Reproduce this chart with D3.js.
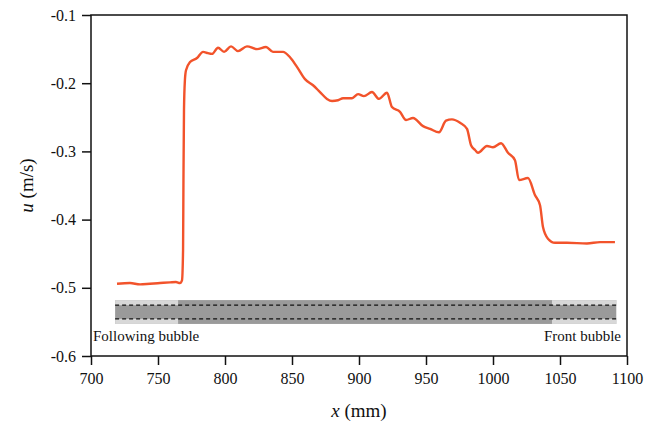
<!DOCTYPE html>
<html>
<head>
<meta charset="utf-8">
<script src="https://cdn.jsdelivr.net/npm/d3@7"></script>
<style>
  body { margin: 0; background: #fff; }
  text { font-family: "Liberation Serif", "DejaVu Serif", serif; fill: #111; }
</style>
</head>
<body>
<div id="chart"></div>
<script>
// Velocity profile: position x (mm) and velocity u (m/s)
var xValues = [719.4, 729.1, 736.6, 744.0, 751.5, 759.0, 763.4, 766.4, 767.9, 768.7,
  769.0, 769.4, 770.1, 770.9, 773.9, 779.1, 783.6, 787.3, 790.3, 794.8,
  799.3, 804.5, 809.7, 816.4, 823.9, 830.6, 835.8, 843.3, 848.5, 853.7,
  859.7, 865.7, 870.9, 876.1, 879.9, 884.3, 888.1, 894.8, 899.3, 903.7,
  909.7, 914.9, 920.9, 924.6, 930.6, 935.1, 940.3, 947.8, 953.0, 959.7,
  964.9, 969.4, 975.4, 980.6, 983.6, 986.6, 988.8, 995.5, 1000.0, 1006.0,
  1011.2, 1016.4, 1019.4, 1026.1, 1031.3, 1035.1, 1037.3, 1041.0, 1046.3, 1050.0,
  1055.2, 1070.1, 1079.9, 1091.0];
var uValues = [-0.494, -0.493, -0.495, -0.494, -0.493, -0.492, -0.4915, -0.493, -0.489, -0.445,
  -0.342, -0.239, -0.195, -0.181, -0.169, -0.163, -0.154, -0.156, -0.157, -0.148,
  -0.154, -0.146, -0.153, -0.146, -0.150, -0.147, -0.154, -0.154, -0.162, -0.176,
  -0.194, -0.203, -0.213, -0.223, -0.226, -0.225, -0.222, -0.222, -0.216, -0.219,
  -0.213, -0.223, -0.214, -0.235, -0.242, -0.254, -0.251, -0.263, -0.267, -0.272,
  -0.255, -0.253, -0.258, -0.267, -0.291, -0.298, -0.302, -0.292, -0.294, -0.288,
  -0.302, -0.313, -0.342, -0.339, -0.364, -0.379, -0.411, -0.428, -0.434, -0.434,
  -0.434, -0.435, -0.433, -0.433];

// Tick values
var xTicks = [700, 750, 800, 850, 900, 950, 1000, 1050, 1100];
var yTicks = [-0.1, -0.2, -0.3, -0.4, -0.5, -0.6];

// Bubble sketch: extent of the channel band and the two bubble noses (mm, m/s)
var bandX = [718, 1092];
var bubbleEnds = [765, 1044];
var bandOuter = [-0.518, -0.553];
var bandInner = [-0.5255, -0.5455];
var bubbleLabels = ["Following bubble", "Front bubble"];

var svgWidth = 667;
var svgHeight = 423;
var margin = { top: 15, right: 40, bottom: 67, left: 91 };
var chartWidth = svgWidth - margin.left - margin.right;
var chartHeight = svgHeight - margin.top - margin.bottom;

var svg = d3.select("#chart")
  .append("svg")
  .attr("width", svgWidth)
  .attr("height", svgHeight);

var chartGroup = svg.append("g")
  .attr("transform", `translate(${margin.left}, ${margin.top})`);

var xScale = d3.scaleLinear().domain([700, 1100]).range([0, chartWidth]);
var yScale = d3.scaleLinear().domain([-0.6, -0.1]).range([chartHeight, 0]);

var data = xValues.map((x, i) => ({ x: x, u: uValues[i] }));

// bubble band
var band = chartGroup.append("g");
band.append("rect")
  .attr("x", xScale(bandX[0]))
  .attr("y", yScale(bandOuter[0]))
  .attr("width", xScale(bandX[1]) - xScale(bandX[0]))
  .attr("height", yScale(bandOuter[1]) - yScale(bandOuter[0]))
  .attr("fill", "#9a9a9a");

// lighter film around the bubble noses
var ends = [[bandX[0], bubbleEnds[0]], [bubbleEnds[1], bandX[1]]];
ends.forEach(function(e) {
  [[bandOuter[0], bandInner[0]], [bandInner[1], bandOuter[1]]].forEach(function(s) {
    band.append("rect")
      .attr("x", xScale(e[0]))
      .attr("y", yScale(s[0]))
      .attr("width", xScale(e[1]) - xScale(e[0]))
      .attr("height", yScale(s[1]) - yScale(s[0]))
      .attr("fill", "#d8d8d8");
  });
});

bandInner.forEach(function(v) {
  band.append("line")
    .attr("x1", xScale(bandX[0]))
    .attr("x2", xScale(bandX[1]))
    .attr("y1", yScale(v))
    .attr("y2", yScale(v))
    .attr("stroke", "#111")
    .attr("stroke-width", 1.2)
    .attr("stroke-dasharray", "4 3");
});

band.append("text")
  .attr("x", 2)
  .attr("y", yScale(-0.5775))
  .attr("font-size", "15px")
  .text(bubbleLabels[0]);

band.append("text")
  .attr("x", chartWidth - 6)
  .attr("y", yScale(-0.5775))
  .attr("text-anchor", "end")
  .attr("font-size", "15px")
  .text(bubbleLabels[1]);

// velocity line
var drawLine = d3.line()
  .x(d => xScale(d.x))
  .y(d => yScale(d.u))
  .curve(d3.curveMonotoneX);

chartGroup.append("path")
  .attr("d", drawLine(data))
  .attr("fill", "none")
  .attr("stroke", "#f2532b")
  .attr("stroke-width", 2.4);

// frame
chartGroup.append("rect")
  .attr("width", chartWidth)
  .attr("height", chartHeight)
  .attr("fill", "none")
  .attr("stroke", "#111")
  .attr("stroke-width", 1.5);

// axes (plain hyphen for minus, as in the original)
var xAxis = d3.axisBottom(xScale).tickValues(xTicks).tickSize(9).tickPadding(8).tickFormat(d => String(d));
var yAxis = d3.axisLeft(yScale).tickValues(yTicks).tickSize(9).tickPadding(6).tickFormat(d => d.toFixed(1));

var gx = chartGroup.append("g")
  .attr("transform", `translate(0, ${chartHeight})`)
  .call(xAxis);
var gy = chartGroup.append("g").call(yAxis);

[gx, gy].forEach(function(g) {
  g.select(".domain").remove();
  g.selectAll("line").attr("stroke", "#111").attr("stroke-width", 1.5);
  g.selectAll("text")
    .attr("font-size", "16px")
    .attr("fill", "#111");
});

// axis titles
var xLabel = chartGroup.append("text")
  .attr("x", chartWidth / 2)
  .attr("y", chartHeight + 61)
  .attr("text-anchor", "middle")
  .attr("font-size", "19px");
xLabel.append("tspan").attr("font-style", "italic").text("x");
xLabel.append("tspan").text(" (mm)");

var yLabel = chartGroup.append("text")
  .attr("transform", `translate(-58, ${chartHeight / 2}) rotate(-90)`)
  .attr("text-anchor", "middle")
  .attr("font-size", "19px");
yLabel.append("tspan").attr("font-style", "italic").text("u");
yLabel.append("tspan").text(" (m/s)");
</script>
</body>
</html>
